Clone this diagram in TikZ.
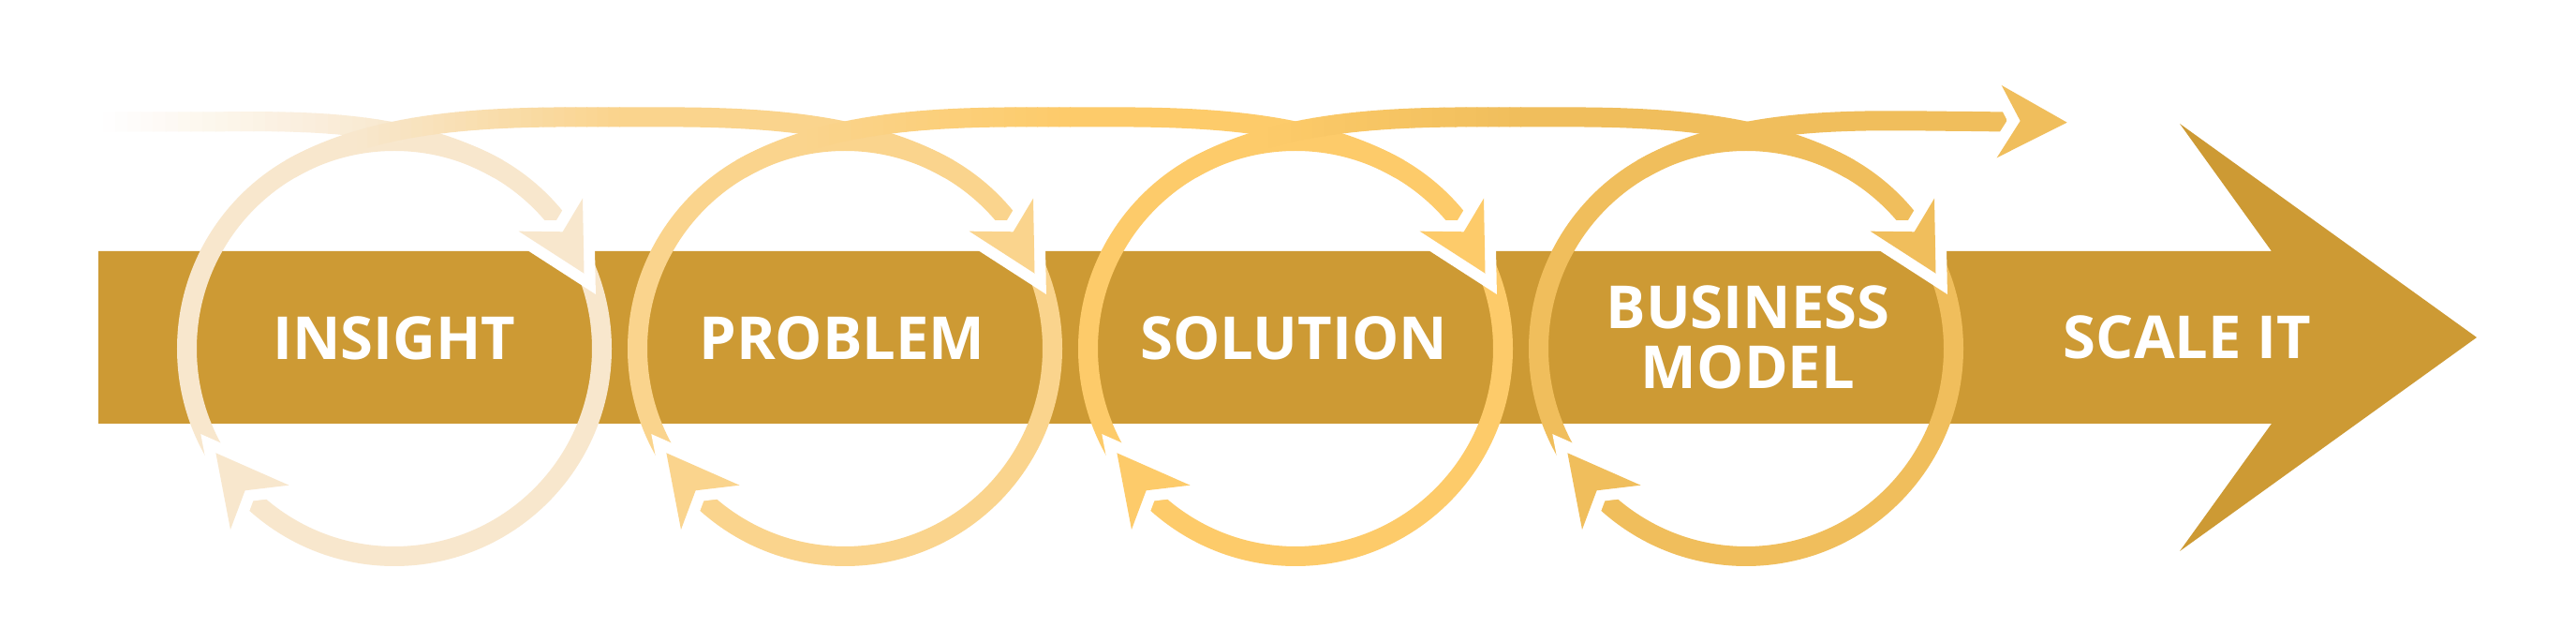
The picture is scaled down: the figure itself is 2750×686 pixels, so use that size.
\documentclass[tikz,border=0pt]{standalone}
\usepackage{fontspec}
\setmainfont{Open Sans}
\usepackage{tikz}
\usetikzlibrary{calc}
\definecolor{bargold}{HTML}{CD9A34}
\definecolor{loopone}{HTML}{F8E7CD}
\definecolor{looptwo}{HTML}{FAD48D}
\definecolor{loopthree}{HTML}{FDCB6A}
\definecolor{loopfour}{HTML}{F0BE5C}
\tikzset{
	coilline/.style={line width=0.21cm},
	halo/.style={draw=white, line width=0.24cm, line join=miter, miter limit=3},
	stagetext/.style={text=white, align=center, font=\fontsize{18}{18}\selectfont\bfseries}
}
\def\headpoly[#1](#2)(#3)(#4)(#5){\draw[halo] (#2) -- (#3) -- (#4) -- (#5) -- cycle; \fill[#1] (#2) -- (#3) -- (#4) -- (#5) -- cycle;}
\def\shadedcoil(#1:#2)(#3:#4)#5;{%
	\begin{scope}\clip (-10, -10) rectangle (#1, 700); \draw[coilline, #3] #5; \end{scope}%
	\foreach \s in {0,...,23}{%
		\pgfmathsetmacro\xa{#1+(#2-#1)*\s/24}%
		\pgfmathsetmacro\xb{#1+(#2-#1)*(\s+1)/24+1}%
		\pgfmathsetmacro\mx{100*(\s+0.5)/24}%
		\begin{scope}\clip (\xa, -10) rectangle (\xb, 700); \draw[coilline, #4!\mx!#3] #5; \end{scope}%
	}%
	\begin{scope}\clip (#2, -10) rectangle (2760, 700); \draw[coilline, #4] #5; \end{scope}%
}

\begin{document}
\begin{tikzpicture}[x=0.01cm, y=-0.01cm]
			%%%%% START %%%%%
			
			\useasboundingbox (0, 0) rectangle (2750, 686);
			\fill[white] (0, 0) rectangle (2750, 686);
			
			\fill[bargold] (105, 268) -- (2425, 268) -- (2327, 132) -- (2644, 360) -- (2327, 588) -- (2425, 452) -- (105, 452) -- cycle;
			
			\foreach \cx/\cc in {421/loopone, 902/looptwo, 1383/loopthree, 1864/loopfour}
				\draw[coilline, \cc] (\cx, 372) circle[radius=221.5];
			
			\shadedcoil(110:430)(white:loopone) (100, 130) -- (200, 130) .. controls (300, 130) and (427.8, 122) .. (531.75, 180.2);
			
			\foreach \cx/\ca/\cb in {421/loopone/looptwo, 902/looptwo/loopthree, 1383/loopthree/loopfour}{
				\pgfmathsetmacro\ga{\cx-40}
				\pgfmathsetmacro\gb{\cx+240}
				\shadedcoil(\ga:\gb)(\ca:\cb) ({\cx-110.75}, 180.2) .. controls ({\cx-6.8}, 120.2) and ({\cx+140.5}, 125) .. ({\cx+240.5}, 125) .. controls ({\cx+340.5}, 125) and ({\cx+487.8}, 120.2) .. ({\cx+591.75}, 180.2);
			}
			
			\draw[coilline, loopfour] (1753.25, 180.2) .. controls (1857.2, 120.2) and (1994, 129) .. (2104, 129.5) -- (2142, 130);
			
			\foreach \cx/\cc in {421/loopone, 902/looptwo, 1383/loopthree, 1864/loopfour}{
				\headpoly[\cc]({\cx+202.5}, 291.7)({\cx+201}, 211.7)({\cx+179.7}, 247.3)({\cx+132.7}, 246.7)
				\headpoly[\cc]({\cx-190.6}, 483.3)({\cx-112.5}, 517.7)({\cx-159.4}, 523.3)({\cx-175}, 565)
			}
			\headpoly[loopfour](2206.7, 130.7)(2136.7, 91)(2156.7, 129)(2131.7, 168.3)
			
			\node[stagetext] (insight) at (421, 361) {INSIGHT};
			\node[stagetext] (problem) at (899, 361) {PROBLEM};
			\node[stagetext] (solution) at (1381, 361) {SOLUTION};
			\node[stagetext] (business) at (1866, 360) {BUSINESS\\MODEL};
			\node[stagetext] (scaleit) at (2335, 360) {SCALE IT};
			
			%%%%% END %%%%%
\end{tikzpicture}
\end{document}
